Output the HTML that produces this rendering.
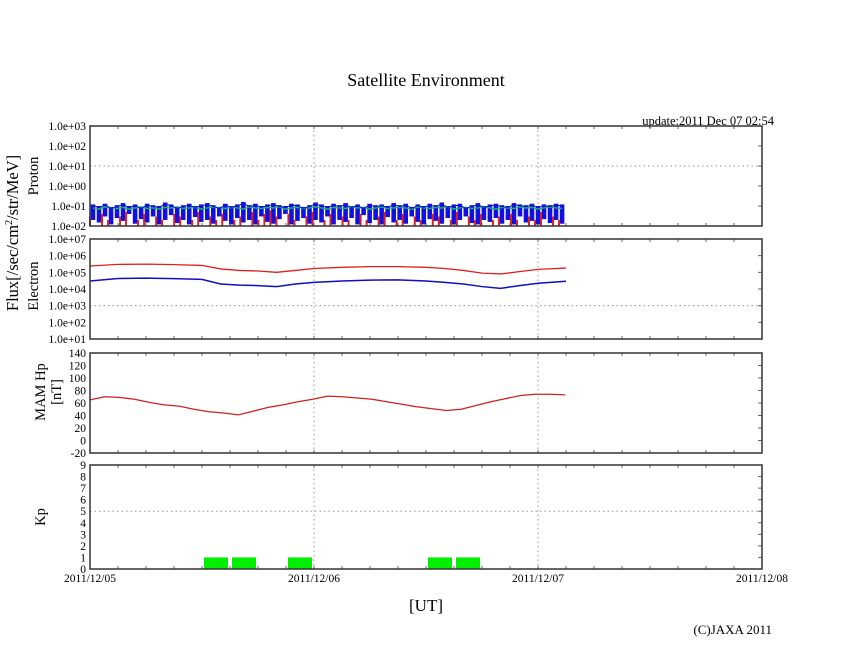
<!DOCTYPE html>
<html><head><meta charset="utf-8"><style>
body{margin:0;background:#fff;}
svg{display:block;font-family:"Liberation Serif",serif;}
</style></head><body>
<svg id="c" width="846" height="655"></svg>
<script>
// ---- data ----
const kpBins = [0,0,0,0,1,1,0,1,0,0,0,0,1,1,0,0]; // 3-hour Kp from 2011/12/05 00UT
const hpValues = [65,70,69,66,61,57,55,50,46,44,41,47,53,57,62,66,71,70,68,66,62,58,54,51,48,50,56,62,67,72,74,74,73];
const elHours = [0,3,6,9,12,14,16,18,20,22,24,27,30,33,36,38,40,42,44,46,48,51];
const elRed = [2.4e5,3.0e5,3.1e5,2.9e5,2.6e5,1.6e5,1.3e5,1.2e5,1.0e5,1.3e5,1.7e5,2.0e5,2.2e5,2.2e5,2.0e5,1.7e5,1.3e5,9e4,8e4,1.1e5,1.5e5,1.8e5];
const elBlue = [3.0e4,4.3e4,4.5e4,4.2e4,3.8e4,2.0e4,1.7e4,1.6e4,1.4e4,2.0e4,2.5e4,3.0e4,3.4e4,3.5e4,3.0e4,2.5e4,2.0e4,1.4e4,1.1e4,1.6e4,2.2e4,2.9e4];
const pBlueHi = [0.12,0.10,0.13,0.09,0.11,0.14,0.10,0.12,0.09,0.13,0.11,0.10,0.15,0.12,0.09,0.11,0.13,0.10,0.12,0.14,0.11,0.09,0.13,0.10,0.12,0.16,0.11,0.13,0.10,0.12,0.14,0.11,0.10,0.13,0.12,0.09,0.11,0.15,0.12,0.10,0.13,0.11,0.14,0.10,0.12,0.09,0.13,0.11,0.12,0.10,0.14,0.11,0.13,0.09,0.12,0.10,0.13,0.11,0.15,0.10,0.12,0.13,0.09,0.11,0.14,0.10,0.12,0.13,0.11,0.10,0.14,0.12,0.11,0.13,0.10,0.12,0.11,0.13,0.12];
const pBlueLo = [0.02,0.015,0.03,0.012,0.025,0.018,0.04,0.013,0.022,0.015,0.03,0.012,0.02,0.035,0.014,0.02,0.012,0.028,0.016,0.02,0.013,0.03,0.018,0.012,0.025,0.015,0.02,0.012,0.03,0.016,0.013,0.022,0.04,0.012,0.018,0.025,0.013,0.02,0.015,0.03,0.012,0.02,0.016,0.025,0.012,0.035,0.014,0.02,0.012,0.028,0.015,0.02,0.013,0.03,0.016,0.012,0.022,0.018,0.013,0.025,0.012,0.02,0.03,0.014,0.012,0.02,0.016,0.025,0.013,0.02,0.012,0.03,0.015,0.018,0.012,0.022,0.014,0.02,0.013];
const pRed = [0.03,0.01,0.04,0.02,0.01,0.03,0.05,0.01,0.02,0.04,0.01,0.03,0.02,0.01,0.04,0.03,0.01,0.02,0.05,0.01,0.03,0.02,0.04,0.01,0.02,0.03,0.01,0.05,0.02,0.04,0.06,0.03,0.01,0.04,0.02,0.01,0.03,0.05,0.01,0.02,0.04,0.01,0.03,0.02,0.01,0.04,0.02,0.01,0.03,0.05,0.01,0.02,0.04,0.01,0.03,0.02,0.01,0.04,0.03,0.01,0.02,0.05,0.01,0.03,0.02,0.04,0.01,0.02,0.03,0.01,0.04,0.02,0.01,0.03,0.02,0.05,0.01,0.03,0.02];
const pGreen = [0.08,0.07,0.09,0.08,0.075,0.085,0.07,0.08,0.09,0.075,0.08,0.07,0.085,0.08,0.09,0.075,0.08,0.085,0.07,0.08,0.09,0.08,0.075,0.085,0.08,0.07,0.09,0.08,0.075,0.085,0.08,0.09,0.07,0.08,0.085,0.075,0.08,0.09,0.08,0.07,0.085,0.08,0.075,0.09,0.08,0.085,0.07,0.08,0.09,0.075,0.08,0.085,0.08,0.07,0.09,0.08,0.075,0.085,0.08,0.09,0.07,0.08,0.085,0.075,0.08,0.09,0.08,0.07,0.085,0.08,0.075,0.09,0.08,0.085,0.07,0.08,0.09,0.08,0.075];
const dayLabels = ["2011/12/05","2011/12/06","2011/12/07","2011/12/08"];
const pTicks = ["1.0e-02","1.0e-01","1.0e+00","1.0e+01","1.0e+02","1.0e+03"];
const eTicks = ["1.0e+01","1.0e+02","1.0e+03","1.0e+04","1.0e+05","1.0e+06","1.0e+07"];
const hpTicks = [-20,0,20,40,60,80,100,120,140];
const kpTicks = [0,1,2,3,4,5,6,7,8,9];
const dataEndHours = 50.9;

// ---- layout ----
const svg=document.getElementById('c');
const NS='http://www.w3.org/2000/svg';
const X0=90,X1=762;
const xh=h=>X0+(X1-X0)*h/72;
const P=[{t:126,b:226},{t:239,b:339},{t:353,b:453},{t:465,b:569}];
function el(tag,a,parent){const e=document.createElementNS(NS,tag);for(const k in a)e.setAttribute(k,a[k]);(parent||svg).appendChild(e);return e;}
function txt(s,a,parent){const e=el('text',a,parent);e.textContent=s;return e;}
const yLog=(p,lo,hi)=>v=>P[p].b-(P[p].b-P[p].t)*(Math.log10(v)-lo)/(hi-lo);
const yLin=(p,lo,hi)=>v=>P[p].b-(P[p].b-P[p].t)*(v-lo)/(hi-lo);
const yP=yLog(0,-2,3), yE=yLog(1,1,7), yH=yLin(2,-20,140), yK=yLin(3,0,9);

let t=txt('Satellite Environment',{x:426,y:86,'text-anchor':'middle','font-size':18});


t=txt('update:2011 Dec 07 02:54',{x:774,y:125,'text-anchor':'end','font-size':12.5});



function frame(i,nY,gridY,labels,name){
  const p=P[i];const g=el('g',{});
  
  
  [24,48].forEach(h=>el('line',{x1:xh(h),x2:xh(h),y1:p.t,y2:p.b,stroke:'#999','stroke-dasharray':'1.5,3'},g));
  if(gridY!=null){const yy=p.b-(p.b-p.t)*gridY/(nY-1);el('line',{x1:X0,x2:X1,y1:yy,y2:yy,stroke:'#999','stroke-dasharray':'1.5,3'},g);}
  for(let h=3;h<72;h+=3){el('line',{x1:xh(h),x2:xh(h),y1:p.t,y2:p.t+3,stroke:'#666'},g);el('line',{x1:xh(h),x2:xh(h),y1:p.b,y2:p.b-3,stroke:'#666'},g);}
  labels.forEach((l,k)=>{const yy=p.b-(p.b-p.t)*k/(nY-1);
    el('line',{x1:X1,x2:X1-4,y1:yy,y2:yy,stroke:'#666'},g);
    const tl=txt(String(l),{x:86,y:yy+4,'text-anchor':'end','font-size':11.5},g);
    
    });
  return g;
}
const g1=frame(0,6,3,pTicks,'proton');
const g2=frame(1,7,2,eTicks,'electron');
const g3=frame(2,9,null,hpTicks,'hp');
const g4=frame(3,10,5,kpTicks,'kp');

// proton
const nP=pBlueHi.length, step=dataEndHours/nP;
pBlueHi.forEach((v,i)=>{const x=xh(i*step+step/2);const r=el('rect',{x:x-2.3,y:yP(v),width:4.6,height:yP(pBlueLo[i])-yP(v),fill:'#1010e0'},g1);
  
  });
pRed.forEach((v,i)=>{const x=xh(i*step);const r=el('rect',{x:x-1,y:yP(v),width:2,height:P[0].b-yP(v),fill:'#e02020'},g1);
  
  });
let ln=el('polyline',{points:pGreen.map((v,i)=>xh(i*step+step/2)+','+yP(v)).join(' '),fill:'none',stroke:'#20b060','stroke-width':1.5},g1);


ln=el('polyline',{points:pBlueHi.map((v,i)=>xh(i*step+step/2)+','+yP(v*0.85)).join(' '),fill:'none',stroke:'#1010e0','stroke-width':1},g1);



// electron
ln=el('polyline',{points:elRed.map((v,i)=>xh(elHours[i])+','+yE(v)).join(' '),fill:'none',stroke:'#e02020','stroke-width':1.3},g2);


ln=el('polyline',{points:elBlue.map((v,i)=>xh(elHours[i])+','+yE(v)).join(' '),fill:'none',stroke:'#1010c0','stroke-width':1.5},g2);



// hp
const hpStep=dataEndHours/(hpValues.length-1);
ln=el('polyline',{points:hpValues.map((v,i)=>xh(i*hpStep)+','+yH(v)).join(' '),fill:'none',stroke:'#d02020','stroke-width':1.3},g3);



// kp
kpBins.forEach((v,i)=>{if(v<=0)return;const r=el('rect',{x:xh(i*3)+2,y:yK(v),width:xh(3)-X0-4,height:P[3].b-yK(v),fill:'#00ee00'},g4);
  
  });

P.forEach(p=>{el('rect',{x:X0,y:p.t,width:X1-X0,height:p.b-p.t,fill:'none',stroke:'#333','stroke-width':1.5});});

dayLabels.forEach((d,i)=>{const l=txt(d,{x:xh(i*24),y:582,'text-anchor':'middle','font-size':11.5});
  
  });
t=txt('[UT]',{x:426,y:611,'text-anchor':'middle','font-size':17});


t=txt('(C)JAXA 2011',{x:772,y:634,'text-anchor':'end','font-size':13});



function vt(s,x,y,fs,name){const e=txt(s,{x:x,y:y,'text-anchor':'middle','font-size':fs,transform:`rotate(-90 ${x} ${y})`});
  
  return e;}
const fl=vt('',18,233,16.5,'flux-axis-title');
fl.innerHTML='Flux[/sec/cm<tspan dy="-6" font-size="10">2</tspan><tspan dy="6">/str/MeV]</tspan>';
vt('Proton',38,176,14.5,'proton-axis-title');
vt('Electron',38,286,14.5,'electron-axis-title');
vt('MAM Hp',45,392,14.5,'hp-axis-title');
vt('[nT]',61,392,14.5,'hp-unit-title');
vt('Kp',45,517,14.5,'kp-axis-title');
</script>
</body></html>
